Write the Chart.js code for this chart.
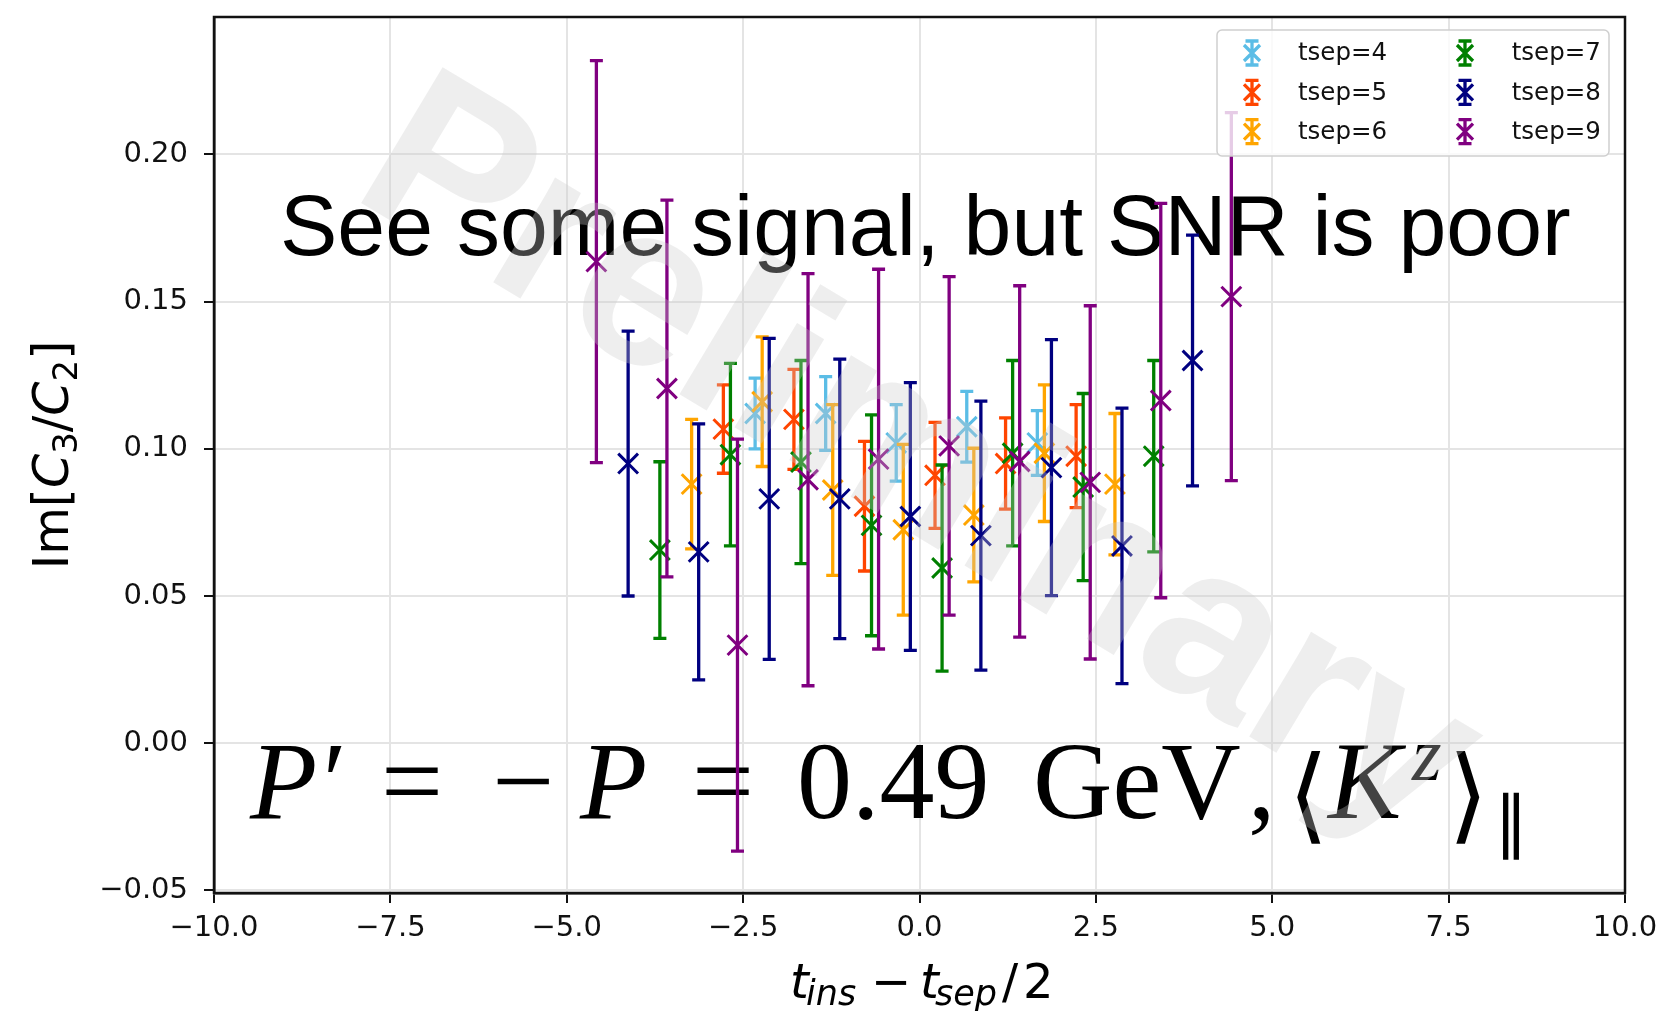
<!DOCTYPE html>
<html>
<head>
<meta charset="utf-8">
<script src="https://cdn.jsdelivr.net/npm/chart.js@4.4.1/dist/chart.umd.min.js"></script>
<style>
  html, body { margin: 0; padding: 0; background: #fff; }
  #wrap { width: 1660px; height: 1011px; }
</style>
</head>
<body>
<div id="wrap"><canvas id="chart" width="1660" height="1011"></canvas></div>
<script>
// axis ticks
const xTicks = [-10, -7.5, -5, -2.5, 0, 2.5, 5, 7.5, 10];
const yTicks = [-0.05, 0, 0.05, 0.10, 0.15, 0.20];

const seriesNames = ["tsep=4", "tsep=5", "tsep=6", "tsep=7", "tsep=8", "tsep=9"];
const seriesColors = ["#5BBDE6", "#FF4500", "#FFA500", "#008000", "#000080", "#800080"];

// tsep=4
const x4 = [-2.33, -1.33, -0.33, 0.67, 1.67];
const y4 = [0.112, 0.112, 0.102, 0.1075, 0.102];
const e4 = [0.012, 0.0125, 0.013, 0.012, 0.011];
// tsep=5
const x5 = [-2.78, -1.78, -0.78, 0.22, 1.22, 2.22];
const y5 = [0.1067, 0.110, 0.0805, 0.091, 0.095, 0.0975];
const e5 = [0.015, 0.017, 0.022, 0.018, 0.0155, 0.0175];
// tsep=6
const x6 = [-3.23, -2.23, -1.23, -0.23, 0.77, 1.77, 2.77];
const y6 = [0.088, 0.116, 0.086, 0.0725, 0.0775, 0.0985, 0.088];
const e6 = [0.022, 0.022, 0.029, 0.029, 0.0227, 0.0232, 0.024];
// tsep=7
const x7 = [-3.68, -2.68, -1.68, -0.68, 0.32, 1.32, 2.32, 3.32];
const y7 = [0.0656, 0.098, 0.0955, 0.074, 0.0595, 0.0985, 0.087, 0.0975];
const e7 = [0.030, 0.031, 0.0345, 0.0375, 0.035, 0.0315, 0.0318, 0.0325];
// tsep=8
const x8 = [-4.13, -3.13, -2.13, -1.13, -0.13, 0.87, 1.87, 2.87, 3.87];
const y8 = [0.095, 0.065, 0.083, 0.083, 0.077, 0.0705, 0.0936, 0.067, 0.130];
const e8 = [0.045, 0.0435, 0.0545, 0.0475, 0.0455, 0.0457, 0.0435, 0.0468, 0.0426];
// tsep=9
const x9 = [-4.58, -3.58, -2.58, -1.58, -0.58, 0.42, 1.42, 2.42, 3.42, 4.42];
const y9 = [0.1636, 0.1205, 0.0333, 0.0895, 0.0965, 0.101, 0.0957, 0.0886, 0.1164, 0.1517];
const e9 = [0.0683, 0.064, 0.070, 0.070, 0.0645, 0.0575, 0.0597, 0.060, 0.067, 0.0625];

const xs = [x4, x5, x6, x7, x8, x9];
const ys = [y4, y5, y6, y7, y8, y9];
const es = [e4, e5, e6, e7, e8, e9];

const datasets = seriesNames.map((name, i) => ({
    label: name,
    data: xs[i].map((x, j) => ({ x: x, y: ys[i][j] })),
    errors: es[i],
    borderColor: seriesColors[i],
    backgroundColor: seriesColors[i],
    pointStyle: "crossRot",
    pointRadius: 14,
    pointBorderWidth: 3,
    showLine: false,
    order: 6 - i, // later series on top, like matplotlib
}));

const minus = s => s.replace("-", "\u2212");

// error bars, drawn just before each dataset's markers
const errorBars = {
    id: "errorBars",
    beforeDatasetDraw(chart, args) {
        const ds = chart.data.datasets[args.index];
        const sx = chart.scales.x, sy = chart.scales.y;
        const ctx = chart.ctx;
        ctx.save();
        ctx.strokeStyle = ds.borderColor;
        ctx.lineWidth = 3.3;
        ds.data.forEach((p, i) => {
            const px = sx.getPixelForValue(p.x);
            const top = sy.getPixelForValue(p.y + ds.errors[i]);
            const bot = sy.getPixelForValue(p.y - ds.errors[i]);
            ctx.beginPath();
            ctx.moveTo(px, top); ctx.lineTo(px, bot);
            ctx.moveTo(px - 6.5, top); ctx.lineTo(px + 6.5, top);
            ctx.moveTo(px - 6.5, bot); ctx.lineTo(px + 6.5, bot);
            ctx.stroke();
        });
        ctx.restore();
    }
};

// annotations underneath the data
const notes = {
    id: "notes",
    beforeDatasetsDraw(chart) {
        const ctx = chart.ctx;
        ctx.save();
        ctx.fillStyle = "#000";
        ctx.textBaseline = "alphabetic";
        ctx.textAlign = "left";
        ctx.font = '86px "Liberation Sans", Arial, sans-serif';
        ctx.fillText("See some signal, but SNR is poor", 280, 255);

        const serif = '"Liberation Serif", "DejaVu Serif", serif';
        const it = "italic 110px " + serif, rm = "110px " + serif;
        const parts = [
            [it, "P", 250, 818],
            ["italic 110px " + serif, "\u2032", 316, 818],
            [rm, "=", 381, 818],
            [rm, "\u2212", 492, 818],
            [it, "P", 580, 818],
            [rm, "=", 692, 818],
            [rm, "0.49", 797, 818],
            [rm, "GeV", 1033, 818],
            [rm, ",", 1248, 818],
            ['104px "DejaVu Sans"', "\u27E8", 1288, 830],
            [it, "K", 1328, 818],
            ["italic 76px " + serif, "z", 1412, 780],
            ['104px "DejaVu Sans"', "\u27E9", 1448, 830],
            ['68px "DejaVu Sans"', "\u2225", 1494, 845],
        ];
        parts.forEach(p => {
            ctx.font = p[0];
            ctx.fillText(p[1], p[2], p[3]);
        });
        ctx.restore();
    }
};

// frame, legend, axis titles and watermark
const decor = {
    id: "decor",
    afterDatasetsDraw(chart) {
        const ctx = chart.ctx;
        const a = chart.chartArea;
        ctx.save();
        ctx.strokeStyle = "#111";
        ctx.lineWidth = 2.5;
        ctx.strokeRect(a.left, a.top, a.right - a.left, a.bottom - a.top);

        // legend
        ctx.beginPath();
        ctx.roundRect(1217, 30, 392, 126, 5);
        ctx.fillStyle = "rgba(255,255,255,0.8)";
        ctx.fill();
        ctx.strokeStyle = "#cfcfcf";
        ctx.lineWidth = 1.5;
        ctx.stroke();
        ctx.font = '24.5px "DejaVu Sans"';
        ctx.textBaseline = "middle";
        ctx.textAlign = "left";
        chart.data.datasets.forEach((ds, i) => {
            const col = Math.floor(i / 3), row = i % 3;
            const mx = 1252 + col * 213, my = 53 + row * 39.3;
            ctx.strokeStyle = ds.borderColor;
            ctx.lineWidth = 3.3;
            ctx.beginPath();
            ctx.moveTo(mx, my - 12); ctx.lineTo(mx, my + 12);
            ctx.moveTo(mx - 6.5, my - 12); ctx.lineTo(mx + 6.5, my - 12);
            ctx.moveTo(mx - 6.5, my + 12); ctx.lineTo(mx + 6.5, my + 12);
            ctx.moveTo(mx - 8, my - 8); ctx.lineTo(mx + 8, my + 8);
            ctx.moveTo(mx - 8, my + 8); ctx.lineTo(mx + 8, my - 8);
            ctx.stroke();
            ctx.fillStyle = "#111";
            ctx.fillText(ds.label, 1298 + col * 213.7, my + 1);
        });
        ctx.restore();
    },
    afterDraw(chart) {
        const ctx = chart.ctx;
        ctx.save();
        ctx.fillStyle = "#000";
        ctx.textBaseline = "alphabetic";
        ctx.textAlign = "left";

        // x axis title: t_ins - t_sep/2
        const oblique = 'oblique 48px "DejaVu Sans"', obSub = 'oblique 35px "DejaVu Sans"', up = '48px "DejaVu Sans"';
        [[oblique, "t", 790, 998], [obSub, "ins", 806, 1005], [up, "\u2212", 871, 998],
         [oblique, "t", 920, 998], [obSub, "sep", 935, 1005], [up, "/", 1002, 998], [up, "2", 1023, 998]]
            .forEach(p => { ctx.font = p[0]; ctx.fillText(p[1], p[2], p[3]); });

        // y axis title: Im[C3/C2]
        ctx.translate(68, 455);
        ctx.rotate(-Math.PI / 2);
        const ypieces = [
            ['49px "DejaVu Sans"', "Im[", 0],
            ['oblique 49px "DejaVu Sans"', "C", 0],
            ['34px "DejaVu Sans"', "3", 9],
            ['49px "DejaVu Sans"', "/", 0],
            ['oblique 49px "DejaVu Sans"', "C", 0],
            ['34px "DejaVu Sans"', "2", 9],
            ['49px "DejaVu Sans"', "]", 0],
        ];
        let total = 0;
        ypieces.forEach(p => { ctx.font = p[0]; total += ctx.measureText(p[1]).width; });
        let cx = -total / 2;
        ypieces.forEach(p => {
            ctx.font = p[0];
            ctx.fillText(p[1], cx, p[2]);
            cx += ctx.measureText(p[1]).width;
        });
        ctx.setTransform(1, 0, 0, 1, 0, 0);

        // watermark on top of everything
        ctx.translate(348, 195);
        ctx.rotate(31 * Math.PI / 180);
        ctx.font = 'bold 230px "Liberation Sans", Arial, sans-serif';
        ctx.fillStyle = "rgba(204,204,204,0.33)";
        ctx.fillText("Preliminary", 0, 0);
        ctx.restore();
    }
};

const chart = new Chart(document.getElementById("chart").getContext("2d"), {
    type: "scatter",
    data: { datasets: datasets },
    options: {
        responsive: false,
        animation: false,
        events: [],
        layout: { padding: { top: 17, right: 35, left: 0, bottom: 0 } },
        plugins: {
            legend: { display: false },
            tooltip: { enabled: false },
        },
        scales: {
            x: {
                type: "linear",
                min: -10,
                max: 10,
                afterBuildTicks: s => { s.ticks = xTicks.map(v => ({ value: v })); },
                afterFit: s => { s.height = 118; s.paddingLeft = 0; s.paddingRight = 0; },
                ticks: {
                    color: "#111",
                    font: { family: "DejaVu Sans", size: 29 },
                    padding: 8,
                    maxRotation: 0,
                    callback: v => minus(v.toFixed(1)),
                },
                grid: { color: "#e4e4e4", lineWidth: 2, tickColor: "#111", tickLength: 10, tickWidth: 2 },
                border: { color: "#111", width: 2.5 },
            },
            y: {
                min: -0.0509,
                max: 0.2467,
                afterBuildTicks: s => { s.ticks = yTicks.map(v => ({ value: v })); },
                afterFit: s => { s.width = 214; s.paddingTop = 0; s.paddingBottom = 0; },
                ticks: {
                    color: "#111",
                    font: { family: "DejaVu Sans", size: 29 },
                    padding: 16,
                    callback: v => minus(v.toFixed(2)),
                },
                grid: { color: "#e4e4e4", lineWidth: 2, tickColor: "#111", tickLength: 10, tickWidth: 2 },
                border: { color: "#111", width: 2.5 },
            },
        },
    },
    plugins: [errorBars, notes, decor],
});
</script>
</body>
</html>
